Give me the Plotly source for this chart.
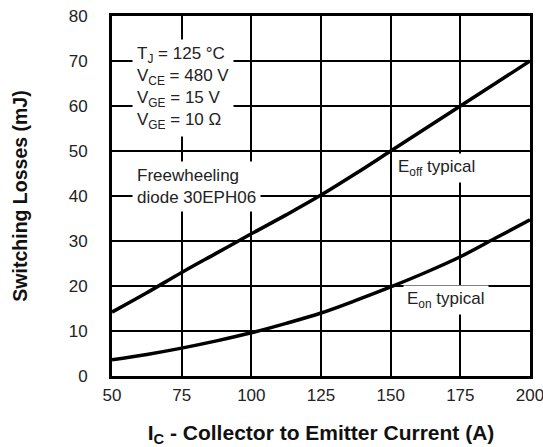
import plotly.graph_objects as go

ic = [50, 62.5, 75, 87.5, 100, 112.5, 125, 137.5, 150, 162.5, 175, 187.5, 200]
e_off = [14.2, 18.5, 23.0, 27.3, 31.6, 35.8, 40.2, 45.0, 50.0, 55.0, 60.0, 65.0, 70.0]
e_on = [3.6, 4.8, 6.2, 7.8, 9.6, 11.7, 14.0, 16.8, 19.8, 23.0, 26.5, 30.6, 34.7]

x_ticks = [50, 75, 100, 125, 150, 175, 200]
y_ticks = [0, 10, 20, 30, 40, 50, 60, 70, 80]

FONT = "Liberation Sans, Arial, Helvetica, sans-serif"

fig = go.Figure()
fig.add_trace(go.Scatter(x=ic, y=e_off, mode="lines", line=dict(color="black", width=3.5, shape="spline"), showlegend=False))
fig.add_trace(go.Scatter(x=ic, y=e_on, mode="lines", line=dict(color="black", width=3.5, shape="spline"), showlegend=False))

ann_font = dict(family=FONT, size=17, color="#222")
fig.add_annotation(x=57.2, y=64, xref="x", yref="y", xanchor="left", yanchor="middle", align="left",
                   text="T<sub>J</sub> = 125 °C<br>V<sub>CE</sub> = 480 V<br>V<sub>GE</sub> = 15 V<br>V<sub>GE</sub> = 10 Ω",
                   showarrow=False, bgcolor="white", borderpad=4, font=ann_font)
fig.add_annotation(x=57.2, y=42.2, xref="x", yref="y", xanchor="left", yanchor="middle", align="left",
                   text="Freewheeling<br>diode 30EPH06",
                   showarrow=False, bgcolor="white", borderpad=4, font=ann_font)
fig.add_annotation(x=151.2, y=46.2, xref="x", yref="y", xanchor="left", yanchor="middle", align="left",
                   text="E<sub>off</sub> typical", showarrow=False, bgcolor="white", borderpad=3, font=ann_font)
fig.add_annotation(x=154.4, y=16.9, xref="x", yref="y", xanchor="left", yanchor="middle", align="left",
                   text="E<sub>on</sub> typical", showarrow=False, bgcolor="white", borderpad=3, font=ann_font)

fig.update_xaxes(range=[50, 200], tickvals=x_ticks, ticktext=[str(v) for v in x_ticks],
                 showgrid=True, gridcolor="black", gridwidth=1.5,
                 showline=True, linecolor="black", linewidth=3, mirror=True,
                 ticks="", ticklabelstandoff=2, zeroline=False, automargin=False,
                 ticklabeloverflow="allow",
                 tickfont=dict(family=FONT, size=17, color="#222"),
                 title=dict(text="<b>I<sub>C</sub> - Collector to Emitter Current (A)</b>",
                            font=dict(family=FONT, size=21, color="#111"), standoff=30))
fig.update_yaxes(range=[0, 80], tickvals=y_ticks, ticktext=[str(v) for v in y_ticks],
                 showgrid=True, gridcolor="black", gridwidth=1.5,
                 showline=True, linecolor="black", linewidth=3, mirror=True,
                 ticks="", ticklabelstandoff=18, zeroline=False, automargin=False,
                 ticklabeloverflow="allow",
                 tickfont=dict(family=FONT, size=17, color="#222"),
                 title=dict(text="<b>Switching Losses (mJ)</b>",
                            font=dict(family=FONT, size=19.5, color="#111"), standoff=36))

fig.update_layout(width=543, height=447, paper_bgcolor="white", plot_bgcolor="white",
                  margin=dict(l=112, r=13, t=16, b=71), showlegend=False)

fig.write_html("out.html", config={"displayModeBar": False},
               post_script="document.body.style.margin='0';document.body.style.overflow='hidden';")
